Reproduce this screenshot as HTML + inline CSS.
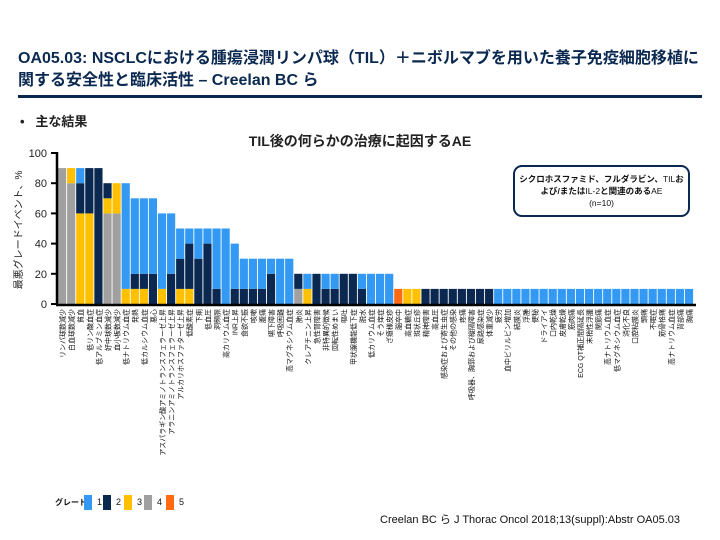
<!DOCTYPE html>
<html><head><meta charset="utf-8">
<style>
body{margin:0;background:#fff;}
#root{position:relative;width:720px;height:540px;overflow:hidden;font-family:"Liberation Sans","Noto Sans CJK JP",sans-serif;}
.abs{position:absolute;}
</style></head>
<body>
<div id="root">
<div class="abs" style="left:18px;top:48px;font-size:16px;font-weight:bold;color:#0a2850;line-height:22px;white-space:nowrap;">OA05.03: NSCLCにおける腫瘍浸潤リンパ球（TIL）＋ニボルマブを用いた養子免疫細胞移植に<br>関する安全性と臨床活性 – Creelan BC ら</div>
<div class="abs" style="left:18px;top:95px;width:684px;height:3px;background:#0a2850;"></div>
<div class="abs" style="left:20px;top:111px;font-size:13px;font-weight:bold;color:#222;white-space:nowrap;">•&nbsp;&nbsp;&nbsp;主な結果</div>
<div class="abs" style="left:0;width:720px;top:131px;text-align:center;font-size:14px;font-weight:bold;color:#222;">TIL後の何らかの治療に起因するAE</div>
<svg class="abs" style="left:0;top:0" width="720" height="540" id="chart"></svg>
<div class="abs" style="left:513px;top:165px;width:173px;border:2px solid #0a2850;border-radius:9px;font-size:8.5px;text-align:center;line-height:12px;padding-top:6px;box-sizing:content-box;height:42px;color:#111;"><b>シクロホスファミド、フルダラビン、</b>TIL<b>お<br>よび/または</b>IL-2<b>と関連のある</b>AE<br>(n=10)</div>
<div class="abs" style="left:380px;top:511px;font-size:11px;color:#111;white-space:nowrap;">Creelan BC ら J Thorac Oncol 2018;13(suppl):Abstr OA05.03</div>
</div>
<script>
const categories=["リンパ球数減少","白血球数減少","貧血","低リン酸血症","低アルブミン血症","好中球数減少","血小板数減少","低ナトリウム血症","発熱","低カルシウム血症","悪心","アスパラギン酸アミノトランスフェラーゼ上昇","アラニンアミノトランスフェラーゼ上昇","アルカリホスファターゼ上昇","低酸素症","下痢","低血圧","洞頻脈","高カリウム血症","INR上昇","食欲不振","咳嗽","腹痛","嚥下障害","呼吸困難","高マグネシウム血症","肺炎","クレアチニン上昇","急性腎障害","非特異的徴候","回転性めまい","嘔吐","甲状腺機能低下症","脱水","低カリウム血症","そう痒症","ざ瘡様皮疹","脳卒中","高血糖症","斑状丘疹","精神障害","高血圧","感染症および寄生虫症","その他の感染","疼痛","呼吸器、胸郭および縦隔障害","尿路感染症","体重減少","疲労","血中ビリルビン増加","結膜炎","浮腫","便秘","ドライアイ","口内乾燥","皮膚乾燥","筋肉痛","ECG QT補正間隔延長","末梢性浮腫","関節痛","高ナトリウム血症","低マグネシウム血症","消化不良","口腔粘膜炎","頭痛","不眠症","筋骨格痛","高ナトリウム血症","背部痛","胸痛"];
const grade4=[90,80,0,0,0,60,60,0,0,0,0,0,0,0,0,0,0,0,0,0,0,0,0,0,0,0,10,0,0,0,0,0,0,0,0,0,0,0,0,0,0,0,0,0,0,0,0,0,0,0,0,0,0,0,0,0,0,0,0,0,0,0,0,0,0,0,0,0,0,0];
const grade3=[0,10,60,60,0,10,20,10,10,10,0,10,0,10,10,0,0,0,0,0,0,0,0,0,0,0,0,10,0,0,0,0,0,0,0,0,0,0,10,10,0,0,0,0,0,0,0,0,0,0,0,0,0,0,0,0,0,0,0,0,0,0,0,0,0,0,0,0,0,0];
const grade2=[0,0,20,30,90,10,0,0,10,10,20,0,20,20,30,30,40,10,0,10,10,10,10,20,0,0,10,0,20,10,10,20,20,10,0,0,0,0,0,0,10,10,10,10,10,10,10,10,0,0,0,0,0,0,0,0,0,0,0,0,0,0,0,0,0,0,0,0,0,0];
const grade1=[0,0,10,0,0,0,0,70,50,50,50,50,40,20,10,20,10,40,50,30,20,20,20,10,30,30,0,10,0,10,10,0,0,10,20,20,20,0,0,0,0,0,0,0,0,0,0,0,10,10,10,10,10,10,10,10,10,10,10,10,10,10,10,10,10,10,10,10,10,10];
const grade5=[0,0,0,0,0,0,0,0,0,0,0,0,0,0,0,0,0,0,0,0,0,0,0,0,0,0,0,0,0,0,0,0,0,0,0,0,0,10,0,0,0,0,0,0,0,0,0,0,0,0,0,0,0,0,0,0,0,0,0,0,0,0,0,0,0,0,0,0,0,0];
const yTicks=[0,20,40,60,80,100];
const legendLabels=["1","2","3","4","5"];

const NS="http://www.w3.org/2000/svg";
const svg=document.getElementById('chart');
const X0=58,X1=694,Y0=304,Y100=153;
const pitch=(X1-X0)/categories.length;
function xs(i){return X0+i*pitch;}
function ys(v){return Y0-(Y0-Y100)*v/100;}
function mk(t,a){const e=document.createElementNS(NS,t);for(const k in a)e.setAttribute(k,a[k]);svg.appendChild(e);return e;}
const colors={1:"#3399f3",2:"#0a2850",3:"#ffc000",4:"#a0a0a0",5:"#ff6a13"};
const stackOrder=[[4,grade4],[3,grade3],[2,grade2],[1,grade1],[5,grade5]];
categories.forEach((c,i)=>{
  let base=0;
  stackOrder.forEach(([g,arr])=>{
    const v=arr[i];
    if(v>0){
      const r=mk('rect',{x:xs(i),y:ys(base+v),width:pitch-0.9,height:ys(base)-ys(base+v),fill:colors[g]});
      
      
      base+=v;
    }
  });
  const t=mk('text',{x:0,y:0,'font-size':7,'text-anchor':'end',fill:'#111',transform:`translate(${xs(i)+pitch/2+2.5},${Y0+5}) rotate(-90)`});
  
  
  t.textContent=c;
});
const ax=mk('line',{x1:X0-1,y1:Y100-1,x2:X0-1,y2:Y0+1,stroke:'#000','stroke-width':2.5});


const bx=mk('line',{x1:X0-2,y1:Y0+1,x2:X1+2,y2:Y0+1,stroke:'#000','stroke-width':2.5});


yTicks.forEach(v=>{
  const tk=mk('line',{x1:X0-7,y1:ys(v),x2:X0,y2:ys(v),stroke:'#000','stroke-width':2});
  
  
  const tl=mk('text',{x:X0-11,y:ys(v)+4,'font-size':11,'text-anchor':'end',fill:'#222'});
  
  
  tl.textContent=v;
});
const yt=mk('text',{x:0,y:0,'font-size':10,'text-anchor':'middle',fill:'#222',transform:'translate(22,230) rotate(-90)'});


yt.textContent='最悪グレードイベント、%';
const lg=mk('text',{x:55,y:505,'font-size':8,'font-weight':'bold',fill:'#111'});


lg.textContent='グレード';
const lgx=[84,103,124,144,166];
legendLabels.forEach((l,i)=>{
  const r=mk('rect',{x:lgx[i],y:495,width:8,height:15,fill:colors[i+1]});
  
  
  const t=mk('text',{x:lgx[i]+13,y:505,'font-size':9,fill:'#111'});
  
  
  t.textContent=l;
});
</script>
</body></html>
